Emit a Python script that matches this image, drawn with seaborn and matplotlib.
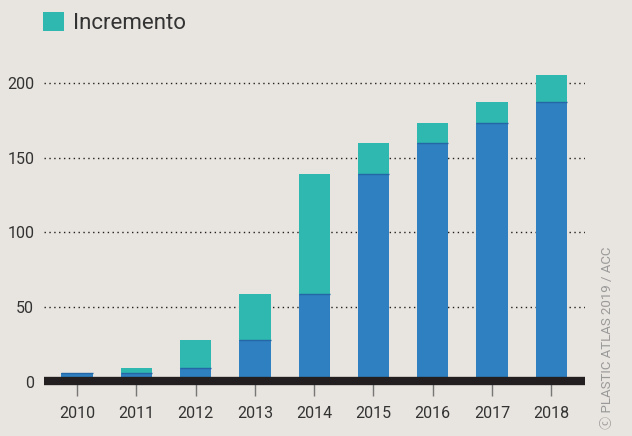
import matplotlib
matplotlib.use('Agg')
from matplotlib import pyplot as plt
from matplotlib.patches import Patch
import pandas as pd
import seaborn as sns

# data
years = ['2010', '2011', '2012', '2013', '2014', '2015', '2016', '2017', '2018']
base = [6, 6, 9.5, 28, 59, 139, 160, 173, 187]
total = [6, 9.5, 28, 59, 139, 160, 173, 187, 205]

df = pd.DataFrame({'year': years, 'base': base, 'total': total})

bg = '#E8E4DF'
blue = '#2E80C0'
teal = '#2FB8B0'
dark = '#231F20'

sns.set_style('white')
plt.rcParams['font.family'] = ['Roboto', 'Noto Sans CJK SC', 'DejaVu Sans']

fig = plt.figure(figsize=(6.32, 4.36), dpi=100, facecolor=bg)
ax = fig.add_axes([44 / 632, (436 - 382) / 436, 541 / 632, 344 / 436])
ax.set_facecolor(bg)

# increment = total bar, base drawn over it
sns.barplot(data=df, x='year', y='total', color=teal, width=0.53,
            saturation=1, ax=ax, zorder=2, linewidth=0)
sns.barplot(data=df, x='year', y='base', color=blue, width=0.53,
            saturation=1, ax=ax, zorder=3, linewidth=0)
# thin darker line on top of the blue part
for c in ax.containers[1]:
    ax.plot([c.get_x(), c.get_x() + c.get_width()], [c.get_height()] * 2,
            color='#2466A6', lw=1, zorder=3.5, solid_capstyle='butt')

ax.set_xlim(-0.56, 8.57)
ax.set_ylim(0, 230)
ax.set_yticks([0, 50, 100, 150, 200])
for v in [50, 100, 150, 200]:
    ax.axhline(v, color=dark, ls=(0, (1, 2.5)), lw=1, zorder=1)
ax.axhline(0.5, color=dark, lw=6, zorder=4, solid_capstyle='butt', clip_on=False)

for s in ax.spines.values():
    s.set_visible(False)
ax.set_xlabel('')
ax.set_ylabel('')
ax.tick_params(axis='x', length=10, width=1, color='#777777', pad=7,
               labelsize=11.5, labelcolor='#333333', direction='out')
ax.tick_params(axis='y', length=0, pad=7, labelsize=11.5, labelcolor='#333333')
ax.xaxis.set_tick_params(bottom=True)

ax.legend(handles=[Patch(facecolor=teal, edgecolor='none', label='Incremento')],
          loc='upper left', bbox_to_anchor=(0.068, 0.972),
          bbox_transform=fig.transFigure, frameon=False, fontsize=16,
          handlelength=0.95, handleheight=0.95, handletextpad=0.4,
          labelcolor='#333333', borderaxespad=0.0, borderpad=0.0)

fig.text(0.962, 0.015, '\u24d2 PLASTIC ATLAS 2019 / ACC', rotation=90,
         ha='center', va='bottom', fontsize=9.5, color='#9A9A9A')

fig.savefig('out.png', dpi=100, facecolor=bg)
